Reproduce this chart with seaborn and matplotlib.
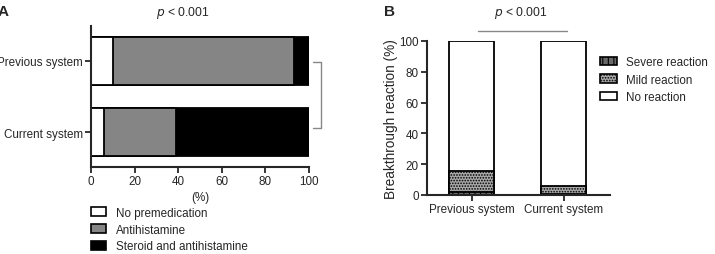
import matplotlib
matplotlib.use("Agg")
import matplotlib.pyplot as plt
from matplotlib.patches import Patch
import numpy as np
import pandas as pd
import seaborn as sns

# ---------------- data ----------------
systems = ["Previous system", "Current system"]
# Panel A: premedication (%)
no_premed = [10, 6]
antihistamine = [83, 33]
steroid_antihistamine = [7, 61]
legend_a = ["No premedication", "Antihistamine", "Steroid and antihistamine"]
# Panel B: breakthrough reaction (%)
severe = [2, 0.5]
mild = [13.6, 5.5]
no_reaction = [84.4, 94]
legend_b = ["Severe reaction", "Mild reaction", "No reaction"]
xticks_a = [0, 20, 40, 60, 80, 100]
yticks_b = [0, 20, 40, 60, 80, 100]
p_text = r"$\it{p}$ < 0.001"

sns.set_style("ticks")
plt.rcParams["font.family"] = ["Liberation Sans", "DejaVu Sans"]
plt.rcParams["hatch.linewidth"] = 0.8
plt.rcParams["axes.linewidth"] = 1.5

W, H = 715, 255
fig = plt.figure(figsize=(W / 100, H / 100), dpi=100)

def fx(px):
    return px / W

def fy(py):
    return 1 - py / H

# ---------------- Panel A ----------------
axA = fig.add_axes([fx(91), fy(168), fx(309) - fx(91), fy(27) - fy(168)])
c1 = np.array(no_premed, dtype=float)
c2 = c1 + np.array(antihistamine)
c3 = c2 + np.array(steroid_antihistamine)
layers_a = [(c3, "black"), (c2, "#858585"), (c1, "white")]
for vals, col in layers_a:
    df = pd.DataFrame({"system": systems, "value": vals})
    sns.barplot(data=df, x="value", y="system", orient="h", color=col,
                saturation=1, edgecolor="black", linewidth=1.3, width=0.68,
                errorbar=None, ax=axA)
axA.set_xlim(0, 100)
axA.set_ylim(1.49, -0.49)
axA.set_xticks(xticks_a)
axA.tick_params(axis="both", labelsize=8.4, length=4, width=1.3, pad=2)
axA.set_ylabel("")
axA.set_xlabel("(%)", fontsize=8.4, labelpad=3)
sns.despine(ax=axA)
axA.plot([1.018, 1.055, 1.055, 1.018], [0.745, 0.745, 0.28, 0.28],
         transform=axA.transAxes, color="#888888", lw=1.0, clip_on=False)

handles_a = [Patch(facecolor=c, edgecolor="black", linewidth=1.2)
             for c in ["white", "#858585", "black"]]
fig.legend(handles_a, legend_a, loc="upper left",
           bbox_to_anchor=(fx(86), fy(203)), frameon=False, fontsize=8.4,
           handlelength=1.35, handleheight=0.75, handletextpad=0.8,
           labelspacing=0.42, borderaxespad=0)

fig.text(fx(183), fy(13), p_text, ha="center", va="center", fontsize=8.7)
fig.text(fx(-2), fy(12), "A", ha="left", va="center", fontsize=11, fontweight="bold")

# ---------------- Panel B ----------------
axB = fig.add_axes([fx(427), fy(196), fx(610) - fx(427), fy(42) - fy(196)])
s1 = np.array(severe, dtype=float)
s2 = s1 + np.array(mild)
s3 = s2 + np.array(no_reaction)
layers_b = [(s3, "white", None), (s2, "#a8a8a8", "......"), (s1, "#6a6a6a", "|||")]
for vals, col, hatch in layers_b:
    df = pd.DataFrame({"system": systems, "value": vals})
    sns.barplot(data=df, x="system", y="value", color=col, saturation=1,
                edgecolor="black", linewidth=1.3, width=0.49,
                errorbar=None, hatch=hatch, ax=axB)
axB.set_xlim(-0.485, 1.505)
axB.set_ylim(0, 100)
axB.set_yticks(yticks_b)
axB.tick_params(axis="both", labelsize=8.4, length=4, width=1.3, pad=2)
axB.set_xlabel("")
axB.set_ylabel("Breakthrough reaction (%)", fontsize=9.8, labelpad=1)
sns.despine(ax=axB)
axB.plot([0.279, 0.765], [1.065, 1.065], transform=axB.transAxes,
         color="#888888", lw=1.0, clip_on=False)

handles_b = [Patch(facecolor="#6a6a6a", edgecolor="black", hatch="|||", linewidth=1.2),
             Patch(facecolor="#a8a8a8", edgecolor="black", hatch="......", linewidth=1.2),
             Patch(facecolor="white", edgecolor="black", linewidth=1.2)]
fig.legend(handles_b, legend_b, loc="upper left",
           bbox_to_anchor=(fx(595), fy(52)), frameon=False, fontsize=8.4,
           handlelength=1.45, handleheight=0.7, handletextpad=0.8,
           labelspacing=0.5, borderaxespad=0)

fig.text(fx(521), fy(13), p_text, ha="center", va="center", fontsize=8.7)
fig.text(fx(384), fy(12), "B", ha="left", va="center", fontsize=11, fontweight="bold")

fig.savefig("out.png", dpi=100)
